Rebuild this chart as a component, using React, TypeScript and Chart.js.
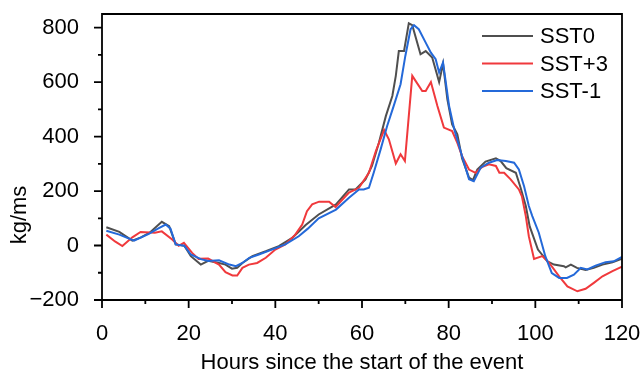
import React, { useEffect, useRef } from "react";
import { Chart, registerables } from "chart.js";

Chart.register(...registerables);

// ---------- data ----------
const seriesLabels = ["SST0", "SST+3", "SST-1"];

const hoursSST0 = [1, 4, 7, 9, 11, 13.8, 15.5, 17, 19, 20.5, 22.8, 24.5, 27, 28.5, 30, 31.2, 32.4, 34.7, 37.8, 40.8, 43.9, 47, 50, 54, 57, 58.5, 60.8, 62.3, 63.9, 65.5, 67, 67.8, 68.5, 69.7, 70.8, 71.6, 73.5, 74.7, 76.2, 77.8, 78.7, 79.7, 80.8, 82, 83.1, 84.7, 85.6, 86.6, 88.5, 90.9, 92, 93.3, 95.5, 96.6, 97.8, 98.7, 100.6, 102.8, 104.3, 106.6, 107, 108.2, 109.6, 111.6, 113.5, 115.5, 117.8, 120];
const valuesSST0 = [67, 50, 18, 30, 47, 87, 71, 4, -1, -39, -70, -56, -64, -70, -85, -82, -64, -39, -21, -2, 28, 75, 114, 151, 206, 206, 243, 292, 377, 475, 549, 623, 714, 714, 816, 809, 702, 714, 690, 600, 668, 537, 445, 408, 320, 249, 240, 279, 308, 320, 310, 284, 267, 212, 145, 70, -15, -58, -70, -76, -80, -70, -82, -90, -82, -70, -62, -48];

const hoursSST3 = [1, 3, 4.7, 7, 8.9, 12.2, 13.8, 16.2, 17.7, 18.9, 20.8, 22.3, 24.5, 27, 28.5, 30.1, 31.2, 32.4, 33.9, 35.8, 37.8, 40, 42.3, 44.6, 46.2, 47.3, 48.5, 50.1, 52.4, 53.9, 55.5, 57, 59.3, 61.6, 63.2, 65.1, 66.2, 67.8, 68.9, 69.9, 71.6, 73.9, 74.7, 75.9, 77.4, 78.9, 80.8, 82, 83.1, 84.7, 86.2, 87.8, 89.3, 90.9, 91.7, 92.8, 94.3, 96.2, 96.9, 97.8, 98.5, 99.7, 101.6, 103.2, 105.5, 107.4, 109.7, 111.6, 113.5, 115.5, 117.8, 120];
const valuesSST3 = [40, 15, -2, 30, 50, 47, 52, 22, -1, 10, -27, -49, -48, -70, -98, -110, -110, -82, -70, -64, -45, -15, 4, 40, 77, 126, 151, 161, 161, 141, 169, 194, 212, 267, 347, 424, 390, 301, 335, 310, 623, 567, 567, 600, 512, 433, 420, 377, 328, 279, 267, 289, 298, 292, 267, 267, 243, 206, 181, 108, 34, -49, -39, -64, -113, -150, -168, -159, -137, -113, -94, -78];

const hoursSSTm1 = [1, 4, 7.4, 10.8, 12.8, 14.7, 15.8, 17, 19, 20.5, 22.8, 24.5, 27, 29.4, 30.9, 32.4, 34, 36.2, 39.2, 42.3, 45.4, 47.5, 50, 54, 57, 59.3, 60.4, 61.6, 62.7, 64.3, 65.8, 67.3, 68.9, 70, 71.2, 72, 73.1, 74.7, 75.9, 77, 77.8, 78.7, 80.1, 81.3, 83.1, 84.7, 85.8, 87.4, 89.3, 91.2, 93.2, 95.1, 96.2, 97.4, 98.5, 99.3, 100.8, 102.3, 103.8, 105.5, 107.3, 108.9, 110.5, 112, 113.9, 116.2, 118.1, 120];
const valuesSSTm1 = [54, 40, 18, 43, 61, 77, 62, 4, -1, -33, -50, -57, -54, -70, -76, -64, -45, -33, -15, 4, 34, 62, 100, 132, 175, 206, 206, 212, 267, 353, 439, 512, 592, 696, 794, 809, 794, 745, 708, 684, 635, 672, 512, 426, 328, 243, 236, 286, 304, 314, 310, 304, 279, 218, 145, 108, 47, -39, -101, -119, -119, -107, -82, -88, -74, -61, -58, -42];

const xTickValues = [0, 20, 40, 60, 80, 100, 120];
const xMinorTickValues = [10, 30, 50, 70, 90, 110];
const yTickValues = [-200, 0, 200, 400, 600, 800];
const yMinorTickValues = [-100, 100, 300, 500, 700];

const xTitle = "Hours since the start of the event";
const yTitle = "kg/ms";

// ---------- styles ----------
const FONT = '"Liberation Sans", Arial, sans-serif';
const FONT_SIZE = 22;
const COLORS = ["#4f4f4f", "#f0393c", "#2469d9"];

const toPoints = (xs: number[], ys: number[]) => xs.map((x, i) => ({ x, y: ys[i] }));

const zeroPadding = (s: any) => {
  s.paddingTop = 0;
  s.paddingBottom = 0;
  s.paddingLeft = 0;
  s.paddingRight = 0;
};

const framePlugin = {
  id: "frameTicksLegend",
  afterDraw(chart: any) {
    const { ctx, chartArea, scales } = chart;
    const xs = scales.x;
    const ys = scales.y;
    const L = chartArea.left, R = chartArea.right, T = chartArea.top, B = chartArea.bottom;
    ctx.save();
    ctx.strokeStyle = "#000";
    ctx.lineWidth = 1.8;
    ctx.beginPath();
    ctx.moveTo(L, T);
    ctx.lineTo(R, T);
    ctx.lineTo(R, B);
    ctx.lineTo(L, B);
    ctx.closePath();
    xTickValues.forEach((v) => {
      const p = xs.getPixelForValue(v);
      ctx.moveTo(p, B);
      ctx.lineTo(p, B + 8);
    });
    xMinorTickValues.forEach((v) => {
      const p = xs.getPixelForValue(v);
      ctx.moveTo(p, B);
      ctx.lineTo(p, B + 4);
    });
    yTickValues.forEach((v) => {
      const p = ys.getPixelForValue(v);
      ctx.moveTo(L, p);
      ctx.lineTo(L - 8, p);
    });
    yMinorTickValues.forEach((v) => {
      const p = ys.getPixelForValue(v);
      ctx.moveTo(L, p);
      ctx.lineTo(L - 4, p);
    });
    ctx.stroke();

    // y-axis title
    ctx.fillStyle = "#000";
    ctx.font = `${FONT_SIZE}px ${FONT}`;
    ctx.textAlign = "center";
    ctx.textBaseline = "middle";
    ctx.translate(20, 215);
    ctx.rotate(-Math.PI / 2);
    ctx.fillText(yTitle, 0, 0);
    ctx.restore();

    // legend
    ctx.save();
    ctx.font = `${FONT_SIZE}px ${FONT}`;
    ctx.textAlign = "left";
    ctx.textBaseline = "middle";
    chart.data.datasets.forEach((ds: any, i: number) => {
      const y = 36 + i * 27.5;
      ctx.strokeStyle = ds.borderColor;
      ctx.lineWidth = 1.8;
      ctx.beginPath();
      ctx.moveTo(482, y);
      ctx.lineTo(533, y);
      ctx.stroke();
      ctx.fillStyle = "#000";
      ctx.fillText(ds.label, 540, y + 1);
    });
    ctx.restore();
  },
};

export default function App() {
  const canvasRef = useRef<HTMLCanvasElement | null>(null);

  useEffect(() => {
    if (!canvasRef.current) return;
    const chart = new Chart(canvasRef.current, {
      type: "line",
      data: {
        datasets: [
          { label: seriesLabels[0], data: toPoints(hoursSST0, valuesSST0), borderColor: COLORS[0], order: 3 },
          { label: seriesLabels[1], data: toPoints(hoursSST3, valuesSST3), borderColor: COLORS[1], order: 2 },
          { label: seriesLabels[2], data: toPoints(hoursSSTm1, valuesSSTm1), borderColor: COLORS[2], order: 1 },
        ].map((d) => ({ ...d, borderWidth: 2, pointRadius: 0, tension: 0, fill: false })),
      },
      options: {
        responsive: false,
        devicePixelRatio: 1,
        animation: false,
        layout: { padding: { left: 0, right: 19, top: 14, bottom: 0 } },
        plugins: { legend: { display: false }, tooltip: { enabled: false } },
        scales: {
          x: {
            type: "linear",
            min: 0,
            max: 120,
            grid: { display: false },
            border: { display: false },
            afterFit: (s: any) => { s.height = 71; zeroPadding(s); },
            afterBuildTicks: (s: any) => { s.ticks = xTickValues.map((v) => ({ value: v })); },
            ticks: { color: "#000", font: { family: FONT, size: FONT_SIZE }, padding: 13, maxRotation: 0 },
            title: { display: true, text: xTitle, color: "#000", font: { family: FONT, size: FONT_SIZE }, padding: { top: 0, bottom: -5 } },
          },
          y: {
            type: "linear",
            min: -200,
            max: 850,
            grid: { display: false },
            border: { display: false },
            afterFit: (s: any) => { s.width = 102; zeroPadding(s); },
            afterBuildTicks: (s: any) => { s.ticks = yTickValues.map((v) => ({ value: v })); },
            ticks: {
              color: "#000",
              font: { family: FONT, size: FONT_SIZE },
              padding: 15,
              callback: (v: any) => (Number(v) < 0 ? "\u2212" + Math.abs(Number(v)) : String(v)),
            },
          },
        },
      },
      plugins: [framePlugin],
    } as any);
    return () => chart.destroy();
  }, []);

  return (
    <div style={{ position: "absolute", left: 0, top: 0, width: 641, height: 371, background: "#fff" }}>
      <canvas ref={canvasRef} width={641} height={371} />
    </div>
  );
}
